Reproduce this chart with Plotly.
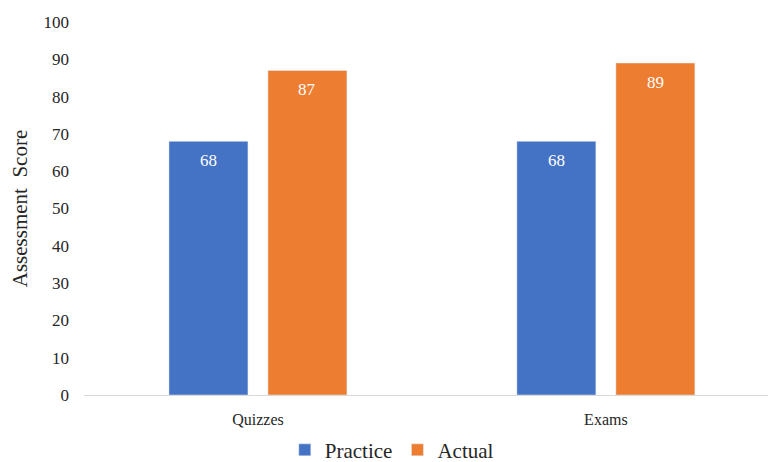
import plotly.graph_objects as go

categories = ["Quizzes", "Exams"]
practice = [68, 68]
actual = [87, 89]
y_ticks = [0, 10, 20, 30, 40, 50, 60, 70, 80, 90, 100]

FONT = "Liberation Serif"

fig = go.Figure()
fig.add_trace(go.Bar(name="Practice", x=categories, y=practice, marker_color="#4472C4"))
fig.add_trace(go.Bar(name="Actual", x=categories, y=actual, marker_color="#ED7D31"))

fig.update_layout(
    width=768, height=462,
    margin=dict(l=84, r=0, t=22, b=67, autoexpand=False),
    paper_bgcolor="white", plot_bgcolor="white",
    barmode="group", bargap=0.431, bargroupgap=0.202,
    font=dict(family=FONT, color="#262626"),
    showlegend=True,
    legend=dict(orientation="h", x=0.45, xanchor="center", y=-0.093, yanchor="top",
                font=dict(size=21, family=FONT), itemwidth=30, traceorder="normal"),
    xaxis=dict(range=[-0.5, 1.466], showline=True, linecolor="#d9d9d9", linewidth=1,
               ticks="", tickfont=dict(size=16, family=FONT), showgrid=False,
               ticklabelstandoff=10),
    yaxis=dict(range=[0, 100], tickvals=y_ticks, showgrid=False, zeroline=False,
               showline=False, tickfont=dict(size=17, family=FONT), ticklabelstandoff=14,
               title=dict(text="Assessment  Score", font=dict(size=21, family=FONT), standoff=10)),
)

# data labels inside the bar tops, placed via the axis scales
offsets = (-0.142, 0.142)
for trace_idx, vals in enumerate((practice, actual)):
    for i, c in enumerate(categories):
        fig.add_annotation(
            x=i + offsets[trace_idx], y=vals[i], xref="x", yref="y",
            text=str(vals[i]), showarrow=False, yanchor="top", yshift=-8,
            font=dict(color="white", size=17, family=FONT))

fig.write_html("out.html")
